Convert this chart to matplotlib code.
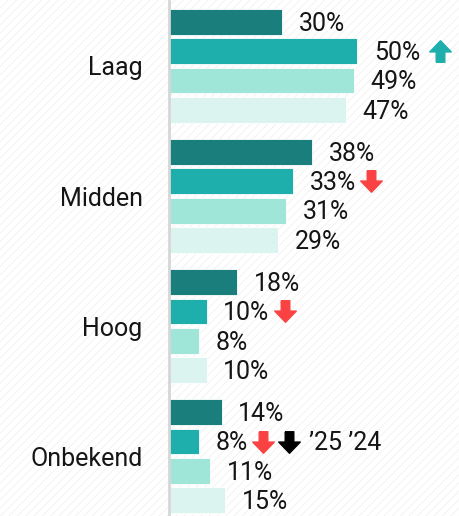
import numpy as np
import matplotlib.pyplot as plt
from matplotlib.path import Path
from matplotlib.patches import Rectangle

categories = ['Laag', 'Midden', 'Hoog', 'Onbekend']
v1 = [30, 38, 18, 14]
v2 = [50, 33, 10, 8]
v3 = [49, 31, 8, 11]
v4 = [47, 29, 10, 15]
# change markers on the second bar of each group: 1 up, -1 down, 0 none
trend = [1, -1, -1, -1]
legend_label = '\u201925 \u201924'

colors = ['#1a7f7c', '#1eaeac', '#a0e6d8', '#dcf4ef']

plt.rcParams['font.family'] = ['Roboto', 'DejaVu Sans']
plt.rcParams['hatch.color'] = '#f0f0f0'
plt.rcParams['hatch.linewidth'] = 0.6

fig = plt.figure(figsize=(4.59, 5.16), dpi=100)
fig.patch.set_facecolor('white')
bg = Rectangle((0, 0), 1, 1, transform=fig.transFigure, facecolor='none',
               edgecolor='#f0f0f0', hatch='////', linewidth=0, zorder=-10)
fig.patches.append(bg)

ax = fig.add_axes([169 / 459, 0, 1 - 169 / 459, 1])
ax.set_facecolor('none')

pitch = 4.44
series = [v1, v2, v3, v4]
texts = {}
for j, vals in enumerate(series):
    y = np.arange(len(categories)) * pitch + j
    ax.barh(y, vals, height=0.88, color=colors[j], edgecolor='white', linewidth=0.6, zorder=2)
    for g, v in enumerate(vals):
        t = ax.annotate(f'{v}%', (v, y[g] + 0.06), xytext=(12, 0), textcoords='offset points',
                        va='center', ha='left', fontsize=18, color='#151515', zorder=3)
        texts[(g, j)] = t

ax.set_xlim(0, 77)
ax.set_ylim(17.61 - 0.75, -0.75)
ax.set_yticks(np.arange(len(categories)) * pitch + 1.5)
ax.set_yticklabels(categories, fontsize=18, color='#151515')
ax.tick_params(axis='y', length=0, pad=19)
ax.set_xticks([])
for s in ['top', 'right', 'bottom']:
    ax.spines[s].set_visible(False)
ax.spines['left'].set_color('#d6d6d6')
ax.spines['left'].set_linewidth(2)

# block arrow marker
down = Path([(-0.2, 0.5), (0.2, 0.5), (0.2, 0.02), (0.5, 0.02), (0, -0.5),
             (-0.5, 0.02), (-0.2, 0.02), (-0.2, 0.5)])
up = Path([(x, -y) for x, y in down.vertices])

fig.canvas.draw()
inv = ax.transData.inverted()
for g, tr in enumerate(trend):
    if tr == 0:
        continue
    bb = texts[(g, 1)].get_window_extent()
    y = g * pitch + 1
    if tr > 0:
        x = inv.transform((bb.x1 + 20, 0))[0]
        ax.plot(x, y, marker=up, markersize=15.5, color='#1eaeac', clip_on=False, zorder=4)
    else:
        x = inv.transform((bb.x1 + 15, 0))[0]
        ax.plot(x, y, marker=down, markersize=15.5, color='#fa4242', clip_on=False, zorder=4)

# legend next to the last red arrow
bb = texts[(3, 1)].get_window_extent()
y = 3 * pitch + 1
x = inv.transform((bb.x1 + 41, 0))[0]
ax.plot(x, y, marker=down, markersize=15.5, color='black', clip_on=False, zorder=4)
xt = inv.transform((bb.x1 + 61, 0))[0]
ax.text(xt, y + 0.06, legend_label, va='center', ha='left', fontsize=18, color='#151515')

fig.savefig('out.png', dpi=100)
